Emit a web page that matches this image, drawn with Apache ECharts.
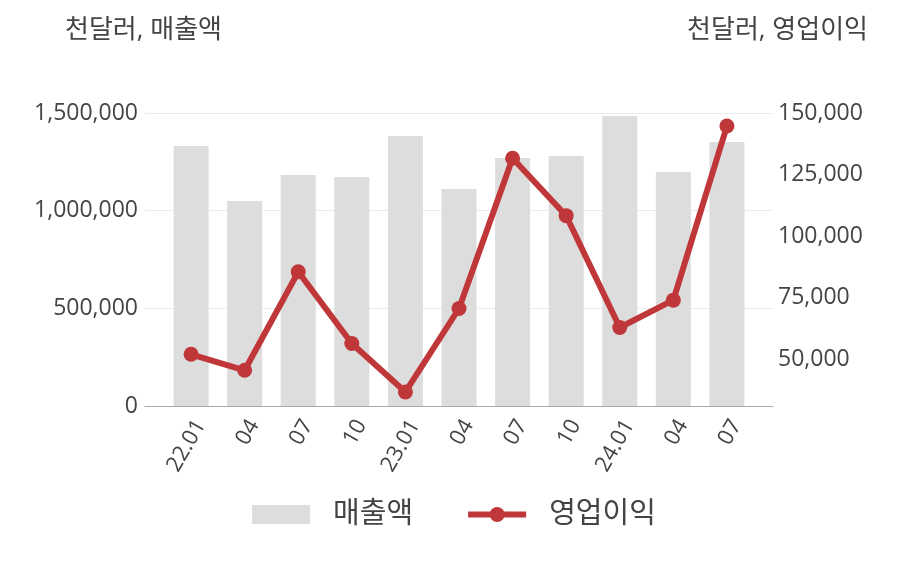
<html lang="ko">
<head>
  <meta charset="UTF-8">
  <title>매출액 / 영업이익</title>
  <script src="https://cdn.jsdelivr.net/npm/echarts@6.0.0/dist/echarts.min.js"></script>
  <style>
    body { margin: 0; padding: 0; background: #fff; }
    #chart { width: 908px; height: 580px; }
  </style>
</head>
<body>
  <div id="chart"></div>
  <script>
    const categories = ['22.01', '04', '07', '10', '23.01', '04', '07', '10', '24.01', '04', '07'];
    // 천달러
    const sales = [1331000, 1049000, 1183000, 1172000, 1382000, 1111000, 1270000, 1280000, 1485000, 1198000, 1352000];
    const opProfit = [52000, 45500, 85500, 56400, 36700, 70600, 131600, 108300, 62900, 74000, 144700];
    const rightTicks = [50000, 75000, 100000, 125000, 150000];

    const font = "'Open Sans', 'Noto Sans CJK KR', sans-serif";
    const fmt = v => v.toLocaleString('en-US');
    const idx = categories.map((c, i) => i);

    const chart = echarts.init(document.getElementById('chart'));

    chart.setOption({
      animation: false,
      textStyle: { fontFamily: font },
      title: [
        {
          text: '천달러, 매출액',
          left: 60, top: 13,
          textStyle: { fontSize: 26, fontWeight: 'normal', color: '#444', fontFamily: font }
        },
        {
          text: '천달러, 영업이익',
          right: 35, top: 13,
          textStyle: { fontSize: 26, fontWeight: 'normal', color: '#444', fontFamily: font }
        }
      ],
      grid: { left: 145, right: 135, top: 113, bottom: 174 },
      legend: {
        bottom: 46,
        left: 'center',
        itemGap: 52,
        itemWidth: 58,
        itemHeight: 19,
        textStyle: { fontSize: 29, color: '#444', fontFamily: font, padding: [0, 0, 0, 18] },
        data: [
          { name: '매출액', icon: 'rect' },
          { name: '영업이익', lineStyle: { width: 6 } }
        ]
      },
      xAxis: {
        type: 'value',
        min: -0.86, max: 10.86,
        splitLine: { show: false },
        axisTick: { show: false },
        axisLine: { lineStyle: { color: '#aaa' } },
        axisLabel: {
          rotate: 60, fontSize: 22, color: '#444', margin: 10,
          verticalAlign: 'top',
          customValues: idx,
          formatter: v => categories[Math.round(v)]
        }
      },
      yAxis: [
        {
          type: 'value',
          min: 0, max: 1500000, interval: 500000,
          axisLine: { show: false },
          axisTick: { show: false },
          splitLine: { lineStyle: { color: '#ebebeb' } },
          axisLabel: { fontSize: 23, color: '#444', margin: 7, padding: [6, 0, 0, 0], formatter: fmt }
        },
        {
          type: 'value',
          min: 31000, max: 150000,
          axisLine: { show: false },
          axisTick: { show: false },
          splitLine: { show: false },
          axisLabel: {
            fontSize: 23, color: '#444', margin: 5, padding: [6, 0, 0, 0],
            customValues: rightTicks,
            formatter: fmt
          }
        }
      ],
      series: [
        {
          name: '매출액',
          type: 'bar',
          data: sales.map((v, i) => [i, v]),
          barWidth: 35,
          itemStyle: { color: '#dddddd' }
        },
        {
          name: '영업이익',
          type: 'line',
          yAxisIndex: 1,
          data: opProfit.map((v, i) => [i, v]),
          symbol: 'circle',
          symbolSize: 15,
          lineStyle: { width: 6, color: '#c0373a' },
          itemStyle: { color: '#c0373a' }
        }
      ]
    });
  </script>
</body>
</html>
